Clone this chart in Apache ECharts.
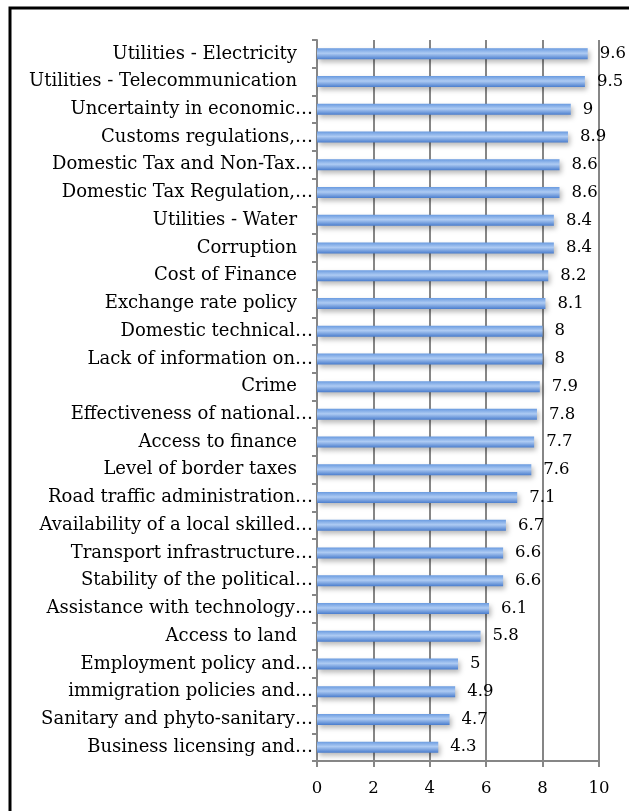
<!DOCTYPE html>
<html>
<head>
<meta charset="utf-8">
<script src="https://cdn.jsdelivr.net/npm/echarts@6/dist/echarts.min.js"></script>
<style>
  html, body { margin: 0; padding: 0; background: #ffffff; }
  #chart { width: 629px; height: 811px; }
</style>
</head>
<body>
<div id="chart"></div>
<script>
// Constraint categories, listed from top to bottom
const categories = [
  'Utilities - Electricity',
  'Utilities - Telecommunication',
  'Uncertainty in economic…',
  'Customs regulations,…',
  'Domestic Tax and Non-Tax…',
  'Domestic Tax Regulation,…',
  'Utilities - Water',
  'Corruption',
  'Cost of Finance',
  'Exchange rate policy',
  'Domestic technical…',
  'Lack of information on…',
  'Crime',
  'Effectiveness of national…',
  'Access to finance',
  'Level of border taxes',
  'Road traffic administration…',
  'Availability of a local skilled…',
  'Transport infrastructure…',
  'Stability of the political…',
  'Assistance with technology…',
  'Access to land',
  'Employment policy and…',
  'immigration policies and…',
  'Sanitary and phyto-sanitary…',
  'Business licensing and…'
];

// Score for each category
const scores = [9.6, 9.5, 9, 8.9, 8.6, 8.6, 8.4, 8.4, 8.2, 8.1, 8, 8, 7.9, 7.8, 7.7, 7.6, 7.1, 6.7, 6.6, 6.6, 6.1, 5.8, 5, 4.9, 4.7, 4.3];

// Value axis ticks
const axisMin = 0;
const axisMax = 10;
const axisStep = 2;

const serif = '"DejaVu Serif", "Liberation Serif", serif';
const labelFont = { color: '#000000', fontFamily: serif, fontSize: 18 };

const chart = echarts.init(document.getElementById('chart'));

chart.setOption({
  animation: false,
  backgroundColor: '#ffffff',
  grid: { left: 317, right: 30, top: 40, bottom: 50 },
  graphic: [{
    type: 'rect',
    shape: { x: 10, y: 8, width: 650, height: 830 },
    style: { fill: 'none', stroke: '#000000', lineWidth: 3 },
    z: 100
  }],
  xAxis: {
    type: 'value',
    min: axisMin,
    max: axisMax,
    interval: axisStep,
    axisLine: { show: true, lineStyle: { color: '#868686', width: 2 } },
    axisTick: { show: true, length: 6, lineStyle: { color: '#868686', width: 2 } },
    splitLine: { show: true, lineStyle: { color: '#868686', width: 2 } },
    axisLabel: { color: '#000000', fontFamily: serif, fontSize: 16.5, margin: 19 }
  },
  yAxis: {
    type: 'category',
    data: categories,
    inverse: true,
    axisLine: { show: true, lineStyle: { color: '#868686', width: 2 } },
    axisTick: { show: true, length: 5, lineStyle: { color: '#868686', width: 2 } },
    axisLabel: {
      margin: 4,
      // full names sit a little further from the axis than shortened ones
      formatter: function (name) {
        return name.endsWith('…') ? '{t|' + name + '}' : '{f|' + name + '}';
      },
      rich: {
        t: Object.assign({}, labelFont),
        f: Object.assign({ padding: [0, 16, 0, 0] }, labelFont)
      }
    }
  },
  series: [{
    type: 'bar',
    data: scores,
    barWidth: 11,
    itemStyle: {
      color: new echarts.graphic.LinearGradient(0, 0, 0, 1, [
        { offset: 0, color: '#6a9be0' },
        { offset: 0.45, color: '#aecbf3' },
        { offset: 1, color: '#4a7dcd' }
      ]),
      shadowColor: 'rgba(0,0,0,0.28)',
      shadowBlur: 5,
      shadowOffsetX: 2,
      shadowOffsetY: 3
    },
    label: {
      show: true,
      position: 'right',
      distance: 12,
      color: '#000000',
      fontFamily: serif,
      fontSize: 16.5
    }
  }]
});
</script>
</body>
</html>
